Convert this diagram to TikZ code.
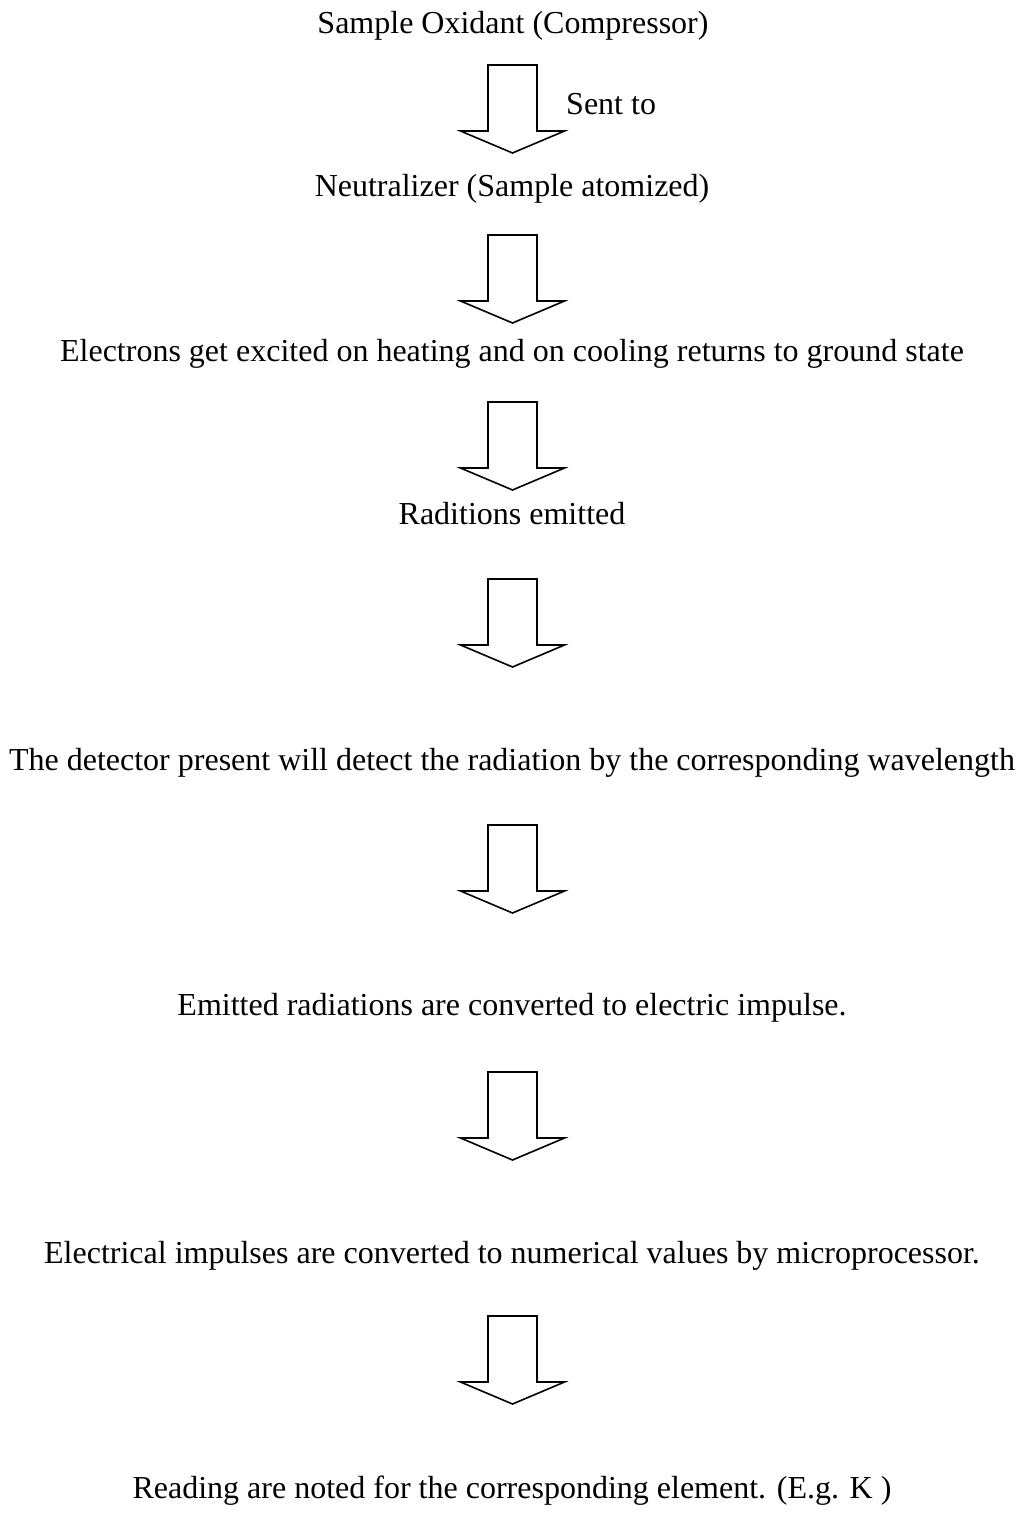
\documentclass[tikz,border=0pt]{standalone}
\usepackage{fontspec}
\setmainfont{Liberation Serif}
\begin{document}
\begin{tikzpicture}[x=1pt,y=-1pt,
  lbl/.style={anchor=base,inner sep=0pt,font=\fontsize{32}{38}\selectfont},
  blockarrow/.pic={\draw[line width=1.6pt,line join=miter]
     (-24.5,0) -- (24.5,0) -- (24.5,66) -- (52,66) -- (0,88) -- (-52,66) -- (-24.5,66) -- cycle;}]
\useasboundingbox (0,0) rectangle (1024,1514);
\node[lbl] (t1) at (513,34) {Sample Oxidant (Compressor)};
\pic at (512.5,65) {blockarrow};
\node[lbl,anchor=base west] (s1) at (566,115) {Sent to};
\node[lbl] (t2) at (512,197) {Neutralizer (Sample atomized)};
\pic at (512.5,235) {blockarrow};
\node[lbl] (t3) at (512,361) {Electrons get excited on heating and on cooling returns to ground state};
\pic at (512.5,402) {blockarrow};
\node[lbl] (t4) at (512,524) {Raditions emitted};
\pic at (512.5,579) {blockarrow};
\node[lbl] (t5) at (512,770) {The detector present will detect the radiation by the corresponding wavelength};
\pic at (512.5,825) {blockarrow};
\node[lbl] (t6) at (512,1015) {Emitted radiations are converted to electric impulse.};
\pic at (512.5,1072) {blockarrow};
\node[lbl] (t7) at (512,1263) {Electrical impulses are converted to numerical values by microprocessor.};
\pic at (512.5,1316) {blockarrow};
\node[lbl] (t8) at (512,1498) {Reading are noted for the corresponding element. (E.g. K )};
\end{tikzpicture}
\end{document}
